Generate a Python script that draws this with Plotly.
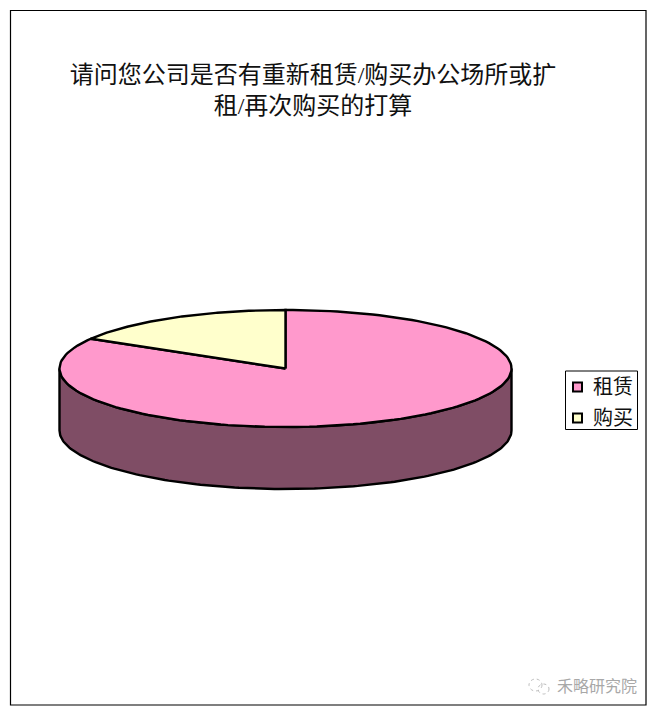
import numpy as np
import plotly.graph_objects as go

# Data
categories = ["租赁", "购买"]
shares = [83.5, 16.5]
slice_colors = ["#FF99CC", "#FFFFCC"]
wall_color = "#7F4D65"
title_text = "请问您公司是否有重新租赁/购买办公场所或扩<br>租/再次购买的打算"
watermark = "禾略研究院"

W, H = 657, 714
CX, CY, RX, RY, DEPTH = 285.5, 368.5, 226, 58.5, 62
LINE = dict(color="#000000", width=2.4)


def rim(a0, a1, drop=0.0, n=160):
    """Ellipse rim between two clockwise angles from 12 o'clock (degrees)."""
    t = np.radians(np.linspace(a0, a1, n))
    return CX + RX * np.sin(t), CY - RY * np.cos(t) + drop


fig = go.Figure()

# Outer wall: the front half of the disc, extruded downward
tx, ty = rim(90, 270)
bx, by = rim(270, 90, DEPTH)
fig.add_trace(go.Scatter(
    x=np.r_[tx, bx, tx[:1]], y=np.r_[ty, by, ty[:1]], mode="lines",
    fill="toself", fillcolor=wall_color, line=LINE,
    showlegend=False, hoverinfo="skip"))

# Top faces, going clockwise from 12 o'clock as in the reference
start = 0.0
for name, share, color in zip(categories, shares, slice_colors):
    end = start + share / sum(shares) * 360
    rx_, ry_ = rim(start, end)
    fig.add_trace(go.Scatter(
        x=np.r_[CX, rx_, CX], y=np.r_[CY, ry_, CY], mode="lines",
        fill="toself", fillcolor=color, line=LINE, name=name,
        hoverinfo="name", showlegend=False))
    start = end

shapes = [dict(type="rect", xref="x", yref="y", x0=10.5, x1=646, y0=10.5, y1=705,
               line=dict(color="#000000", width=1.2), fillcolor="rgba(0,0,0,0)", layer="below")]

# Watermark glyph: two overlapping speech bubbles
for x0, x1, y0, y1 in [(529, 542, 679, 691), (538, 549, 684, 694)]:
    shapes.append(dict(type="circle", xref="x", yref="y", x0=x0, x1=x1, y0=y0, y1=y1,
                       line=dict(color="#BDBDBD", width=1, dash="dot")))

annotations = [
    dict(x=597, y=686, text=watermark, showarrow=False, xref="x", yref="y",
         font=dict(size=16, color="#A8A8A8")),
]

# Legend box drawn by hand so its compact proportions match the reference
shapes.append(dict(type="rect", xref="x", yref="y", x0=565.5, x1=637.5, y0=371, y1=429.5,
                   line=dict(color="#000000", width=1), fillcolor="#FFFFFF"))
for i, (name, color) in enumerate(zip(categories, slice_colors)):
    row_y = 387 + i * 31
    shapes.append(dict(type="rect", xref="x", yref="y", x0=573, x1=582,
                       y0=row_y - 4.5, y1=row_y + 4.5,
                       line=dict(color="#000000", width=2), fillcolor=color))
    annotations.append(dict(x=591, y=row_y, text=name, showarrow=False, xref="x", yref="y",
                            xanchor="left", font=dict(size=20, color="#111111")))

fig.update_layout(
    width=W, height=H, margin=dict(l=0, r=0, t=0, b=0),
    paper_bgcolor="#FFFFFF", plot_bgcolor="#FFFFFF",
    font=dict(family="Liberation Serif, Noto Sans CJK SC"),
    title=dict(text=title_text, x=313 / W, xref="paper", xanchor="center",
               y=1 - 83 / H, yref="paper", yanchor="middle",
               font=dict(size=24, color="#111111")),
    xaxis=dict(range=[0, W], visible=False, domain=[0, 1], fixedrange=True),
    yaxis=dict(range=[H, 0], visible=False, domain=[0, 1], fixedrange=True),
    shapes=shapes, annotations=annotations, showlegend=False,
)

fig.write_html("out.html", config=dict(displayModeBar=False),
               post_script="document.body.style.margin='0';")
